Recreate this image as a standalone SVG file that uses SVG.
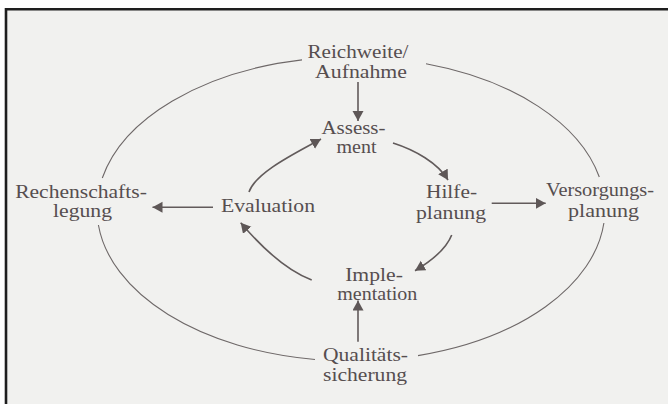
<svg xmlns="http://www.w3.org/2000/svg" width="668" height="404" viewBox="0 0 668 404">
<style>
.lbl{font-family:"Liberation Serif","Times New Roman",serif;font-size:18px;fill:#564e4f;text-anchor:middle}
.ring{fill:none;stroke:#6e6868;stroke-width:1.1}
.arr{fill:none;stroke:#625b5b;stroke-width:1.6;marker-end:url(#ah)}
.frame{stroke:#1e1e1e;stroke-width:2.6;fill:none}
</style>
<defs>
<marker id="ah" markerUnits="userSpaceOnUse" markerWidth="12" markerHeight="12" refX="10" refY="5.5" orient="auto">
<path d="M0,0 L10,5.5 L0,11 z" fill="#5e5757"/>
</marker>
</defs>
<rect x="0" y="0" width="668" height="404" fill="#ffffff"/>
<rect x="6" y="9.3" width="662" height="394.7" fill="#f1f1ef"/>
<path class="frame" d="M6,404 L6,9.3 L668,9.3"/>
<g id="connectors">
<path class="ring" d="M426,63.8 A254,152 0 0 1 599.3,177"/>
<path class="ring" d="M603.9,223 A254,152 0 0 1 418,355.6"/>
<path class="ring" d="M315,359.5 A254,152 0 0 1 98.4,225"/>
<path class="ring" d="M102.3,178 A254,152 0 0 1 302,59.9"/>
<path class="arr" d="M358,82 L358,121"/>
<path class="arr" d="M213,207.3 L152.5,207.3"/>
<path class="arr" d="M491.7,203.3 L545.7,203.3"/>
<path class="arr" d="M358,341.7 L358,300.5"/>
<path class="arr" d="M249,192 C256,172 296,153 321,139"/>
<path class="arr" d="M393,143 C415,150 438,163 448,180"/>
<path class="arr" d="M451.7,235 C447,247 433,260 415,270.7"/>
<path class="arr" d="M311.7,280 C285,270 258,243 240.7,222.7"/>
</g>
<g id="reichweite">
<text class="lbl" x="358" y="57.8" textLength="101" lengthAdjust="spacingAndGlyphs">Reichweite/</text>
<text class="lbl" x="361" y="77.6" textLength="92" lengthAdjust="spacingAndGlyphs">Aufnahme</text>
</g>
<g id="assessment">
<text class="lbl" x="353.5" y="134" textLength="64" lengthAdjust="spacingAndGlyphs">Assess-</text>
<text class="lbl" x="356.5" y="153.3" textLength="40" lengthAdjust="spacingAndGlyphs">ment</text>
</g>
<g id="hilfeplanung">
<text class="lbl" x="451.5" y="198.3" textLength="51" lengthAdjust="spacingAndGlyphs">Hilfe-</text>
<text class="lbl" x="451" y="219.3" textLength="70" lengthAdjust="spacingAndGlyphs">planung</text>
</g>
<g id="evaluation">
<text class="lbl" x="268" y="211.7" textLength="94" lengthAdjust="spacingAndGlyphs">Evaluation</text>
</g>
<g id="rechenschaftslegung">
<text class="lbl" x="81" y="198.3" textLength="131.7" lengthAdjust="spacingAndGlyphs">Rechenschafts-</text>
<text class="lbl" x="82.5" y="216.7" textLength="59" lengthAdjust="spacingAndGlyphs">legung</text>
</g>
<g id="versorgungsplanung">
<text class="lbl" x="600" y="196" textLength="108" lengthAdjust="spacingAndGlyphs">Versorgungs-</text>
<text class="lbl" x="603.5" y="216.7" textLength="71" lengthAdjust="spacingAndGlyphs">planung</text>
</g>
<g id="implementation">
<text class="lbl" x="374" y="280.5" textLength="57.7" lengthAdjust="spacingAndGlyphs">Imple-</text>
<text class="lbl" x="377.3" y="299.5" textLength="80" lengthAdjust="spacingAndGlyphs">mentation</text>
</g>
<g id="qualitaetssicherung">
<text class="lbl" x="365.5" y="360.7" textLength="85" lengthAdjust="spacingAndGlyphs">Qualitäts-</text>
<text class="lbl" x="365" y="381" textLength="84" lengthAdjust="spacingAndGlyphs">sicherung</text>
</g>
</svg>
